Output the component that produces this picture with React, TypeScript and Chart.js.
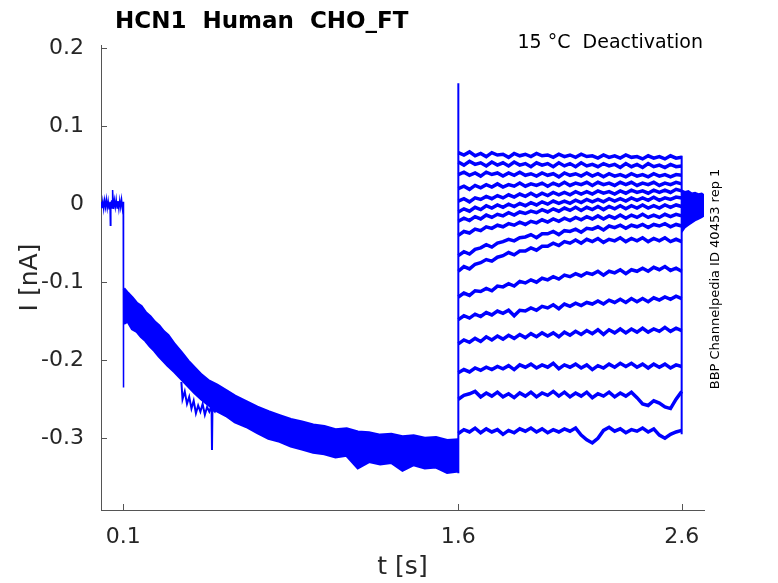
import React, { useEffect, useRef } from "react";
import { Chart, registerables } from "chart.js";
Chart.register(...registerables);

// ---------- data (t in s, I in nA) ----------
const xTicks = [0.1, 1.6, 2.6];
const yTicks = [0.2, 0.1, 0, -0.1, -0.2, -0.3];

const preT = [0,0.004,0.008,0.012,0.016,0.02,0.024,0.028,0.032,0.036,
  0.04,0.042,0.044,0.048,0.05,0.052,0.056,0.06,0.064,0.068,
  0.072,0.076,0.08,0.084,0.088,0.092,0.096,0.0995,0.1,0.1005,
  0.101,0.102];
const preI = [0.003,-0.005,0.004,-0.006,0.005,-0.004,0.006,-0.005,0.004,-0.006,
  0.003,-0.027,-0.004,0.005,-0.005,0.018,-0.006,0.005,-0.004,0.006,
  -0.005,0.004,-0.006,0.005,-0.004,0.006,-0.005,0.003,-0.01,-0.235,
  -0.12,-0.108];

const decayT = [0.102,0.12,0.14,0.16,0.18,0.2,0.22,0.24,0.26,0.28,
  0.3,0.33,0.36,0.39,0.42,0.45,0.48,0.52,0.56,0.6,
  0.65,0.7,0.75,0.8,0.85,0.9,0.95,1.0,1.05,1.1,
  1.15,1.2,1.25,1.3,1.35,1.4,1.45,1.5,1.55,1.6];
const decayHi = [-0.108,-0.114,-0.120,-0.127,-0.131,-0.139,-0.144,-0.151,-0.156,-0.163,
  -0.168,-0.180,-0.190,-0.201,-0.210,-0.219,-0.226,-0.232,-0.239,-0.246,
  -0.253,-0.260,-0.266,-0.271,-0.276,-0.279,-0.283,-0.285,-0.289,-0.288,
  -0.292,-0.293,-0.296,-0.295,-0.298,-0.297,-0.300,-0.299,-0.303,-0.302];
const decayLo = [-0.153,-0.150,-0.160,-0.163,-0.170,-0.175,-0.182,-0.188,-0.195,-0.201,
  -0.207,-0.215,-0.224,-0.233,-0.242,-0.250,-0.257,-0.265,-0.271,-0.279,
  -0.285,-0.293,-0.300,-0.304,-0.310,-0.314,-0.318,-0.320,-0.324,-0.322,
  -0.338,-0.330,-0.333,-0.331,-0.341,-0.334,-0.338,-0.337,-0.344,-0.342];

const branchT = [0.36,0.365,0.375,0.385,0.395,0.405,0.415,0.425,0.435,0.445,
  0.455,0.465,0.475,0.485,0.495,0.497,0.499,0.51,0.525,0.54];
const branchI = [-0.228,-0.250,-0.240,-0.256,-0.247,-0.262,-0.252,-0.268,-0.258,-0.266,
  -0.256,-0.270,-0.260,-0.266,-0.258,-0.315,-0.262,-0.266,-0.257,-0.262];

const jumpT = [1.6, 1.6];
const jumpI = [-0.345, 0.155];

const tStep = [1.6,1.625,1.65,1.675,1.7,1.725,1.75,1.775,1.8,1.825,
  1.85,1.875,1.9,1.925,1.95,1.975,2.0,2.025,2.05,2.075,
  2.1,2.125,2.15,2.175,2.2,2.225,2.25,2.275,2.3,2.325,
  2.35,2.375,2.4,2.425,2.45,2.475,2.5,2.525,2.55,2.575,
  2.6];

const step1 = [0.066,0.063,0.067,0.062,0.065,0.061,0.066,0.063,0.064,0.060,
  0.065,0.062,0.064,0.061,0.065,0.062,0.063,0.060,0.064,0.061,
  0.063,0.060,0.064,0.061,0.062,0.059,0.063,0.060,0.062,0.059,
  0.063,0.060,0.061,0.058,0.062,0.059,0.061,0.058,0.062,0.059,
  0.060];
const step2 = [0.054,0.050,0.055,0.051,0.053,0.049,0.054,0.050,0.053,0.049,
  0.054,0.050,0.052,0.048,0.053,0.050,0.052,0.048,0.053,0.049,
  0.052,0.048,0.053,0.049,0.051,0.048,0.052,0.049,0.051,0.047,
  0.052,0.048,0.051,0.047,0.052,0.048,0.050,0.047,0.051,0.048,
  0.049];
const step3 = [0.038,0.041,0.037,0.040,0.036,0.041,0.038,0.040,0.036,0.040,
  0.037,0.041,0.037,0.039,0.036,0.040,0.037,0.039,0.035,0.040,
  0.037,0.039,0.036,0.040,0.036,0.039,0.035,0.039,0.036,0.038,
  0.035,0.039,0.036,0.038,0.035,0.039,0.036,0.038,0.035,0.038,
  0.037];
const step4 = [0.020,0.023,0.019,0.024,0.021,0.025,0.022,0.026,0.022,0.025,
  0.023,0.027,0.023,0.026,0.024,0.027,0.023,0.027,0.024,0.028,
  0.024,0.027,0.025,0.028,0.024,0.028,0.025,0.027,0.024,0.028,
  0.025,0.028,0.024,0.027,0.025,0.028,0.024,0.027,0.025,0.028,
  0.026];
const step5 = [0.004,0.007,0.003,0.008,0.006,0.010,0.007,0.011,0.008,0.012,
  0.009,0.013,0.010,0.014,0.010,0.014,0.011,0.015,0.012,0.015,
  0.012,0.016,0.013,0.016,0.013,0.017,0.014,0.016,0.013,0.017,
  0.014,0.018,0.015,0.017,0.014,0.018,0.015,0.018,0.015,0.019,
  0.017];
const step6 = [-0.010,-0.006,-0.009,-0.004,-0.007,-0.002,-0.005,-0.001,-0.004,0.000,
  -0.003,0.001,-0.002,0.002,-0.001,0.003,0.000,0.004,0.001,0.004,
  0.001,0.005,0.002,0.006,0.003,0.006,0.003,0.007,0.004,0.007,
  0.004,0.008,0.005,0.008,0.005,0.009,0.005,0.008,0.006,0.009,
  0.008];
const step7 = [-0.022,-0.018,-0.021,-0.016,-0.019,-0.014,-0.017,-0.013,-0.015,-0.011,
  -0.014,-0.010,-0.012,-0.009,-0.011,-0.007,-0.010,-0.006,-0.009,-0.005,
  -0.008,-0.004,-0.008,-0.004,-0.007,-0.003,-0.007,-0.003,-0.006,-0.002,
  -0.006,-0.002,-0.005,-0.001,-0.005,-0.002,-0.005,-0.001,-0.004,-0.001,
  -0.003];
const step8 = [-0.040,-0.035,-0.037,-0.032,-0.034,-0.029,-0.031,-0.027,-0.029,-0.025,
  -0.027,-0.023,-0.026,-0.022,-0.024,-0.020,-0.023,-0.019,-0.022,-0.018,
  -0.021,-0.017,-0.020,-0.016,-0.019,-0.015,-0.019,-0.015,-0.018,-0.014,
  -0.018,-0.014,-0.017,-0.013,-0.017,-0.014,-0.017,-0.013,-0.016,-0.013,
  -0.015];
const step9 = [-0.066,-0.061,-0.064,-0.058,-0.056,-0.052,-0.055,-0.050,-0.048,-0.045,
  -0.047,-0.043,-0.042,-0.039,-0.043,-0.038,-0.038,-0.035,-0.039,-0.034,
  -0.035,-0.032,-0.036,-0.031,-0.032,-0.029,-0.033,-0.028,-0.030,-0.027,
  -0.031,-0.027,-0.029,-0.026,-0.030,-0.026,-0.028,-0.025,-0.029,-0.026,
  -0.028];
const step10 = [-0.086,-0.080,-0.083,-0.077,-0.075,-0.071,-0.073,-0.068,-0.066,-0.062,
  -0.065,-0.060,-0.060,-0.056,-0.059,-0.054,-0.054,-0.050,-0.053,-0.048,
  -0.050,-0.046,-0.050,-0.045,-0.048,-0.044,-0.049,-0.045,-0.047,-0.043,
  -0.048,-0.044,-0.047,-0.043,-0.048,-0.044,-0.047,-0.043,-0.048,-0.045,
  -0.048];
const step11 = [-0.119,-0.114,-0.117,-0.111,-0.112,-0.108,-0.111,-0.105,-0.106,-0.102,
  -0.105,-0.099,-0.101,-0.097,-0.100,-0.095,-0.097,-0.093,-0.096,-0.091,
  -0.093,-0.089,-0.092,-0.088,-0.090,-0.086,-0.091,-0.086,-0.088,-0.084,
  -0.089,-0.084,-0.086,-0.082,-0.086,-0.081,-0.084,-0.080,-0.085,-0.082,
  -0.086];
const step12 = [-0.148,-0.143,-0.146,-0.141,-0.144,-0.139,-0.142,-0.137,-0.140,-0.136,
  -0.143,-0.136,-0.137,-0.133,-0.136,-0.131,-0.133,-0.129,-0.134,-0.128,
  -0.131,-0.127,-0.130,-0.126,-0.128,-0.124,-0.128,-0.123,-0.126,-0.122,
  -0.126,-0.121,-0.125,-0.121,-0.125,-0.120,-0.123,-0.119,-0.122,-0.118,
  -0.121];
const step13 = [-0.179,-0.174,-0.177,-0.172,-0.176,-0.170,-0.174,-0.169,-0.173,-0.168,
  -0.172,-0.167,-0.171,-0.166,-0.170,-0.165,-0.169,-0.165,-0.170,-0.164,
  -0.168,-0.163,-0.167,-0.162,-0.166,-0.161,-0.167,-0.161,-0.165,-0.160,
  -0.165,-0.160,-0.164,-0.159,-0.164,-0.160,-0.163,-0.158,-0.163,-0.159,
  -0.162];
const step14 = [-0.216,-0.212,-0.215,-0.210,-0.213,-0.209,-0.212,-0.208,-0.211,-0.207,
  -0.212,-0.206,-0.209,-0.205,-0.210,-0.206,-0.209,-0.204,-0.211,-0.206,
  -0.209,-0.205,-0.210,-0.206,-0.212,-0.207,-0.210,-0.205,-0.209,-0.204,
  -0.208,-0.204,-0.209,-0.205,-0.210,-0.205,-0.209,-0.205,-0.210,-0.206,
  -0.208];
const step15 = [-0.250,-0.245,-0.243,-0.240,-0.247,-0.242,-0.246,-0.241,-0.247,-0.243,
  -0.248,-0.242,-0.246,-0.241,-0.247,-0.242,-0.245,-0.240,-0.246,-0.241,
  -0.247,-0.242,-0.246,-0.241,-0.248,-0.243,-0.246,-0.241,-0.247,-0.242,
  -0.246,-0.241,-0.248,-0.256,-0.258,-0.252,-0.255,-0.260,-0.262,-0.250,
  -0.240];
const step16 = [-0.294,-0.289,-0.292,-0.287,-0.293,-0.288,-0.292,-0.289,-0.295,-0.290,
  -0.293,-0.288,-0.291,-0.287,-0.292,-0.288,-0.293,-0.289,-0.292,-0.288,
  -0.291,-0.287,-0.296,-0.302,-0.306,-0.300,-0.290,-0.286,-0.291,-0.288,
  -0.293,-0.289,-0.291,-0.287,-0.292,-0.288,-0.296,-0.300,-0.295,-0.292,
  -0.290];
const stepTraces = [step1, step2, step3, step4, step5, step6, step7, step8,
  step9, step10, step11, step12, step13, step14, step15, step16];

const endT = [2.6, 2.6];
const endI = [-0.295, 0.062];

const tailT = [2.6,2.615,2.63,2.645,2.66,2.675,2.69,2.7];
const tailHi = [0.018,0.016,0.017,0.014,0.015,0.013,0.014,0.012];
const tailLo = [-0.036,-0.030,-0.027,-0.024,-0.021,-0.019,-0.017,-0.015];

// ---------- styles ----------
const BLUE = "#0000ff";
const AXIS = "#555555";
const TEXT = "#262626";
const FONT = "'DejaVu Sans', sans-serif";

function pts(xs: number[], ys: number[]) {
  const n = Math.min(xs.length, ys.length);
  const out: { x: number; y: number }[] = [];
  for (let i = 0; i < n; i++) out.push({ x: xs[i], y: ys[i] });
  return out;
}

const fmt = (v: any) => {
  const s = Number(v).toFixed(1).replace(/\.0$/, "");
  return s === "-0" ? "0" : s;
};

const decorPlugin = {
  id: "decor",
  beforeDatasetsDraw(chart: any) {
    const { ctx, chartArea } = chart;
    const xs = chart.scales.x;
    const ys = chart.scales.y;
    ctx.save();
    ctx.strokeStyle = AXIS;
    ctx.lineWidth = 1;
    ctx.beginPath();
    for (const v of yTicks) {
      const y = Math.round(ys.getPixelForValue(v)) + 0.5;
      ctx.moveTo(chartArea.left, y);
      ctx.lineTo(chartArea.left + 6, y);
    }
    for (const v of xTicks) {
      const x = Math.round(xs.getPixelForValue(v)) + 0.5;
      ctx.moveTo(x, chartArea.bottom);
      ctx.lineTo(x, chartArea.bottom - 6);
    }
    ctx.stroke();
    ctx.restore();
  },
  afterDraw(chart: any) {
    const { ctx, chartArea } = chart;
    ctx.save();
    ctx.fillStyle = "#000";
    ctx.textBaseline = "alphabetic";
    ctx.textAlign = "left";
    ctx.font = `bold 23px ${FONT}`;
    ctx.fillText("HCN1  Human  CHO_FT", 115, 28);

    ctx.font = `19px ${FONT}`;
    ctx.textAlign = "right";
    ctx.fillText("15 °C  Deactivation", 703, 48);

    ctx.fillStyle = TEXT;
    ctx.font = `25px ${FONT}`;
    ctx.textAlign = "center";
    ctx.textBaseline = "middle";
    ctx.fillText("t [s]", (chartArea.left + chartArea.right) / 2, 567);

    ctx.save();
    ctx.translate(30, (chartArea.top + chartArea.bottom) / 2);
    ctx.rotate(-Math.PI / 2);
    ctx.fillText("I [nA]", 0, 0);
    ctx.restore();

    ctx.save();
    ctx.fillStyle = "#000";
    ctx.font = `13px ${FONT}`;
    ctx.translate(716, 279);
    ctx.rotate(-Math.PI / 2);
    ctx.fillText("BBP Channelpedia ID 40453 rep 1", 0, 0);
    ctx.restore();

    ctx.restore();
  },
};

export default function App() {
  const ref = useRef<HTMLCanvasElement>(null);

  useEffect(() => {
    if (!ref.current) return;
    const line = (data: any[], width: number, extra: any = {}) => ({
      data,
      borderColor: BLUE,
      backgroundColor: BLUE,
      borderWidth: width,
      pointRadius: 0,
      fill: false,
      tension: 0,
      ...extra,
    });
    const datasets: any[] = [
      line(pts(preT, preI), 1.5),
      line(pts(decayT, decayHi), 3),
      line(pts(decayT, decayLo), 3, { fill: "-1" }),
      line(pts(branchT, branchI), 2),
      line(pts(jumpT, jumpI), 2),
      ...stepTraces.map((tr) => line(pts(tStep, tr), 3.5)),
      line(pts(endT, endI), 2),
      line(pts(tailT, tailHi), 1.5),
      line(pts(tailT, tailLo), 1.5, { fill: "-1" }),
    ];

    const tickFont = { family: FONT, size: 22 };
    const chart = new Chart(ref.current, {
      type: "line",
      data: { datasets },
      plugins: [decorPlugin],
      options: {
        responsive: false,
        animation: false,
        parsing: false as any,
        normalized: true,
        layout: { padding: { left: 0, right: 74, top: 45, bottom: 0 } },
        plugins: {
          legend: { display: false },
          tooltip: { enabled: false },
          title: { display: false },
        },
        scales: {
          x: {
            type: "linear",
            min: 0,
            max: 2.7,
            afterBuildTicks: (s: any) => {
              s.ticks = xTicks.map((v) => ({ value: v }));
            },
            afterFit: (s: any) => {
              s.height = 73;
            },
            grid: { display: true, drawOnChartArea: false, drawTicks: false },
            border: { display: true, color: AXIS, width: 1 },
            ticks: {
              font: tickFont,
              color: TEXT,
              padding: 14,
              maxRotation: 0,
              autoSkip: false,
              callback: (v: any) => fmt(v),
            },
          },
          y: {
            type: "linear",
            min: -0.392,
            max: 0.204,
            afterBuildTicks: (s: any) => {
              s.ticks = yTicks.map((v) => ({ value: v }));
            },
            afterFit: (s: any) => {
              s.width = 101;
            },
            grid: { display: true, drawOnChartArea: false, drawTicks: false },
            border: { display: true, color: AXIS, width: 1 },
            ticks: {
              font: tickFont,
              color: TEXT,
              padding: 17,
              autoSkip: false,
              callback: (v: any) => fmt(v),
            },
          },
        },
      } as any,
    });
    return () => chart.destroy();
  }, []);

  return (
    <div style={{ position: "fixed", left: 0, top: 0, width: 778, height: 583, background: "#fff" }}>
      <canvas ref={ref} width={778} height={583} style={{ width: 778, height: 583, display: "block" }} />
    </div>
  );
}
